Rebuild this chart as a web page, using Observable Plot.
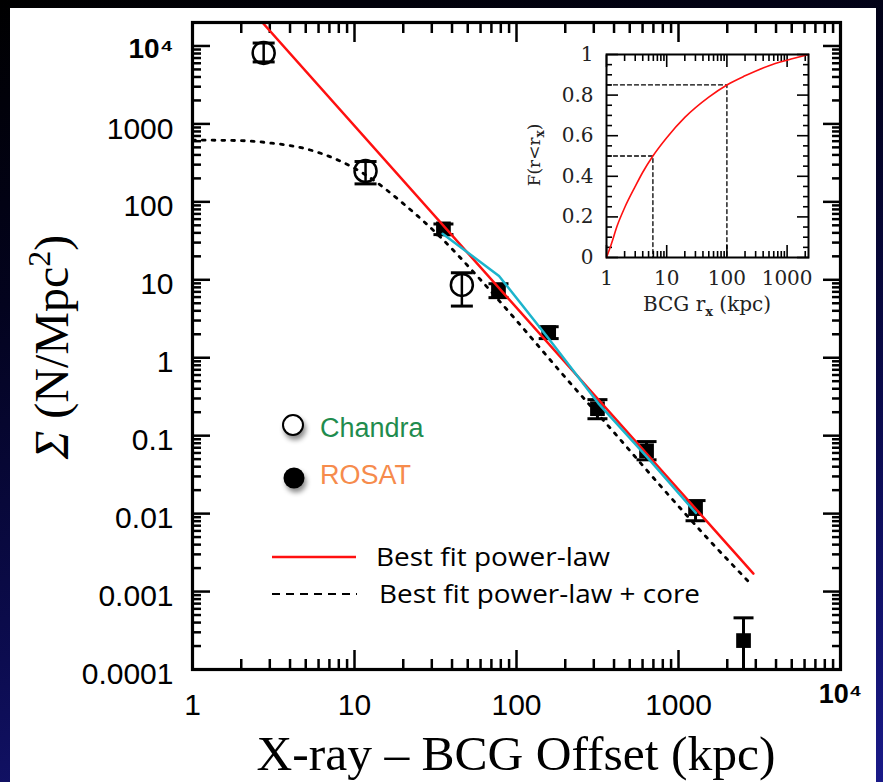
<!DOCTYPE html>
<html>
<head>
<meta charset="utf-8">
<script src="https://cdn.jsdelivr.net/npm/d3@7"></script>
<script src="https://cdn.jsdelivr.net/npm/@observablehq/plot@0.6"></script>
<style>
  html, body { margin: 0; padding: 0; width: 883px; height: 782px; overflow: hidden; }
  body { position: relative; background: linear-gradient(165deg, #000000 0%, #03031e 30%, #0c0c50 65%, #1a1a88 100%); }
  #panel { position: absolute; left: 10px; top: 8px; width: 866px; height: 774px; background: #ffffff; }
  #main { position: absolute; left: 0; top: 0; }
  #inset { position: absolute; left: 540px; top: 30px; }
  #overlay { position: absolute; left: 0; top: 0; pointer-events: none; }
</style>
</head>
<body>
<div id="panel"></div>
<div id="main"></div>
<div id="inset"></div>
<svg id="overlay" width="883" height="782">
  <defs>
    <filter id="sh" x="-60%" y="-60%" width="220%" height="220%">
      <feDropShadow dx="2" dy="4" stdDeviation="2.5" flood-color="#000" flood-opacity="0.45"/>
    </filter>
  </defs>
  <text x="516" y="770" font-family="Liberation Serif" font-size="49" text-anchor="middle" textLength="519" lengthAdjust="spacingAndGlyphs">X-ray – BCG Offset (kpc)</text>
  <text transform="translate(68,347) rotate(-90)" font-family="Liberation Serif" font-size="48" text-anchor="middle"><tspan font-style="italic">Σ</tspan> (N/Mpc<tspan dy="-18" font-size="32">2</tspan><tspan dy="18">)</tspan></text>
  <circle cx="293" cy="425" r="10" fill="#ffffff" stroke="#000" stroke-width="2" filter="url(#sh)"/>
  <text x="320" y="437" font-family="Liberation Sans" font-size="27" fill="#1f8c4e">Chandra</text>
  <circle cx="294" cy="478" r="10.5" fill="#000" filter="url(#sh)"/>
  <text x="320" y="484" font-family="Liberation Sans" font-size="27" fill="#f68b4c">ROSAT</text>
  <line x1="272" x2="356" y1="557" y2="557" stroke="#ff1010" stroke-width="2.5"/>
  <text x="376" y="566" font-family="Open Sans" font-size="26" textLength="234" lengthAdjust="spacingAndGlyphs">Best fit power-law</text>
  <line x1="272" x2="357" y1="594" y2="594" stroke="#000" stroke-width="1.8" stroke-dasharray="8,6"/>
  <text x="379" y="603" font-family="Open Sans" font-size="26" textLength="321" lengthAdjust="spacingAndGlyphs">Best fit power-law + core</text>
  <text x="707" y="311" font-family="DejaVu Serif" font-size="20" text-anchor="middle" fill="#222">BCG r<tspan dy="5" font-size="13" font-weight="bold">x</tspan><tspan dy="-5"> (kpc)</tspan></text>
  <text transform="translate(540,155) rotate(-90)" font-family="DejaVu Serif" font-size="17" text-anchor="middle" fill="#222">F(r&lt;r<tspan dy="4" font-size="12" font-weight="bold">x</tspan><tspan dy="-4">)</tspan></text>
</svg>
<script>
// ---------- main panel data ----------
const xMajor = [1, 10, 100, 1000, 10000];
const xMajorLabels = ["1", "10", "100", "1000", "10⁴"];
const yMajor = [1e-4, 1e-3, 1e-2, 1e-1, 1, 10, 100, 1000, 1e4];
const yMajorLabels = ["0.0001", "0.001", "0.01", "0.1", "1", "10", "100", "1000", "10⁴"];
const minorSteps = [2, 3, 4, 5, 6, 7, 8, 9];

// Chandra (open circles)
const chandraR  = [2.75, 11.7, 46];
const chandraS  = [8150, 249, 8.6];
const chandraLo = [6240, 170, 4.6];
const chandraHi = [10900, 329, 12.3];

// ROSAT (filled squares)
const rosatR  = [35.4, 77.4, 158, 316, 635, 1274, 2520];
const rosatS  = [45, 7.2, 2.1, 0.222, 0.064, 0.0116, 0.000235];
const rosatLo = [38, 5.9, 1.76, 0.165, 0.049, 0.0081, 0.00005];
const rosatHi = [52, 8.9, 2.5, 0.29, 0.084, 0.0147, 0.00046];

// Best fit power-law (red)
const powerR = [2.7, 2900];
const powerS = [20000, 0.0017];

// Best fit power-law + core (dotted)
const coreR = [1, 2, 3, 5, 8, 12, 20, 35, 60, 100, 200, 400, 800, 1500, 2800];
const coreS = [620, 610, 570, 480, 340, 215, 95, 33, 10, 3.0, 0.56, 0.11, 0.021, 0.0049, 0.00125];

// model (cyan)
const modelR = [35, 78, 160, 320, 640, 1280];
const modelS = [39, 11.2, 1.7, 0.26, 0.053, 0.0102];

// ---------- inset data ----------
const insetXMajor = [1, 10, 100, 1000];
const insetXLabels = ["1", "10", "100", "1000"];
const insetYMajor = [0, 0.2, 0.4, 0.6, 0.8, 1];
const insetYLabels = ["0", "0.2", "0.4", "0.6", "0.8", "1"];
const insetYMinor = [0.05,0.1,0.15,0.25,0.3,0.35,0.45,0.5,0.55,0.65,0.7,0.75,0.85,0.9,0.95];
const cumR = [1, 1.2, 1.5, 2, 3, 4, 5.9, 10, 20, 50, 100, 200, 500, 1000, 2266];
const cumF = [0, 0.065, 0.155, 0.245, 0.35, 0.42, 0.5, 0.59, 0.69, 0.79, 0.85, 0.895, 0.945, 0.972, 1.0];
const dashAR = [1, 5.9, 5.9], dashAF = [0.5, 0.5, 0];
const dashBR = [1, 100, 100], dashBF = [0.85, 0.85, 0];

// ---------- build tables ----------
const zip = (a, b, ka, kb) => a.map((v, i) => ({[ka]: v, [kb]: b[i]}));
const chandra = chandraR.map((r, i) => ({r, s: chandraS[i], lo: chandraLo[i], hi: chandraHi[i]}));
const rosat = rosatR.map((r, i) => ({r, s: rosatS[i], lo: rosatLo[i], hi: rosatHi[i]}));
const power = zip(powerR, powerS, "r", "s");
const core = zip(coreR, coreS, "r", "s");
const model = zip(modelR, modelS, "r", "s");
const cum = zip(cumR, cumF, "r", "f");
const dashA = zip(dashAR, dashAF, "r", "f");
const dashB = zip(dashBR, dashBF, "r", "f");

const xMinor = xMajor.slice(0, -1).flatMap(d => minorSteps.map(m => d * m));
const yMinor = yMajor.flatMap(d => minorSteps.map(m => d * m)).filter(v => v < 2e4);
const insetXMinor = insetXMajor.flatMap(d => minorSteps.map(m => d * m)).filter(v => v < 2266);

const labelOf = (vals, labels) => d => {
  const i = vals.findIndex(v => Math.abs(v - d) <= 1e-9 * Math.max(1, Math.abs(v)));
  return i < 0 ? "" : labels[i];
};

// custom horizontal cap symbol
const cap = {draw(ctx, size) { const w = Math.sqrt(size / Math.PI); ctx.moveTo(-w, 0); ctx.lineTo(w, 0); }};

function frameTicks(axis, values, size, sw) {
  const f = axis === "x" ? Plot.axisX : Plot.axisY;
  const anchors = axis === "x" ? ["bottom", "top"] : ["left", "right"];
  return anchors.map(a => f(values, {anchor: a, tickSize: -size, fill: "none", stroke: "black", strokeWidth: sw, label: null}));
}

const font = "Liberation Sans";
const main = Plot.plot({
  width: 883, height: 782,
  marginLeft: 192, marginRight: 43, marginTop: 22, marginBottom: 113,
  style: {background: "transparent", overflow: "visible"},
  x: {type: "log", domain: [1, 1e4], axis: null},
  y: {type: "log", domain: [1e-4, 2e4], axis: null},
  marks: [
    ...frameTicks("x", xMajor, 19, 2.5),
    ...frameTicks("x", xMinor, 10, 2.5),
    ...frameTicks("y", yMajor, 18, 2.5),
    ...frameTicks("y", yMinor, 9, 2.5),
    Plot.axisX(xMajor, {anchor: "bottom", tickSize: 0, tickPadding: 24, tickFormat: d => d === 1e4 ? "" : labelOf(xMajor, xMajorLabels)(d), fontSize: 30, fontFamily: font, label: null}),
    Plot.axisX([1e4], {anchor: "bottom", tickSize: 0, tickPadding: 14, tickFormat: labelOf(xMajor, xMajorLabels), fontSize: 27, fontWeight: "bold", fontFamily: font, label: null}),
    Plot.axisY(yMajor, {anchor: "left", tickSize: 0, tickPadding: 19, dy: 5, tickFormat: d => d === 1e4 ? "" : labelOf(yMajor, yMajorLabels)(d), fontSize: 30, fontFamily: font, label: null}),
    Plot.axisY([1e4], {anchor: "left", tickSize: 0, tickPadding: 19, dy: 3, tickFormat: labelOf(yMajor, yMajorLabels), fontSize: 28, fontWeight: "bold", fontFamily: font, label: null}),
    // Chandra
    Plot.ruleX(chandra, {x: "r", y1: "lo", y2: "hi", stroke: "black", strokeWidth: 2.5, clip: true}),
    Plot.dot(chandra, {x: "r", y: "lo", symbol: cap, r: 11, stroke: "black", fill: "none", strokeWidth: 3, clip: true}),
    Plot.dot(chandra, {x: "r", y: "hi", symbol: cap, r: 11, stroke: "black", fill: "none", strokeWidth: 3, clip: true}),
    Plot.dot(chandra, {x: "r", y: "s", r: 11, stroke: "black", fill: "none", strokeWidth: 2.5}),
    // ROSAT
    Plot.ruleX(rosat, {x: "r", y1: "lo", y2: "hi", stroke: "black", strokeWidth: 3, clip: true}),
    Plot.dot(rosat, {x: "r", y: "lo", symbol: cap, r: 10, stroke: "black", fill: "none", strokeWidth: 3, clip: true}),
    Plot.dot(rosat, {x: "r", y: "hi", symbol: cap, r: 10, stroke: "black", fill: "none", strokeWidth: 3, clip: true}),
    Plot.dot(rosat, {x: "r", y: "s", symbol: "square", r: 8.3, fill: "black", stroke: "none"}),
    // fits
    Plot.line(core, {x: "r", y: "s", stroke: "black", strokeWidth: 2.8, strokeDasharray: "2.8,7", curve: "monotone-x", clip: true}),
    Plot.line(power, {x: "r", y: "s", stroke: "#ff1010", strokeWidth: 2.5, clip: true}),
    Plot.line(model, {x: "r", y: "s", stroke: "#1cb4cc", strokeWidth: 2.5, clip: true}),
    Plot.frame({stroke: "black", strokeWidth: 3.2})
  ]
});
document.getElementById("main").append(main);

const serif = "DejaVu Serif";
const inset = Plot.plot({
  width: 300, height: 300,
  marginLeft: 66, marginRight: 32, marginTop: 24, marginBottom: 73,
  style: {background: "transparent", overflow: "visible"},
  x: {type: "log", domain: [1, 2266], axis: null},
  y: {type: "linear", domain: [0, 1], axis: null},
  marks: [
    ...frameTicks("x", insetXMajor, 12, 1.6),
    ...frameTicks("x", insetXMinor, 6, 1.6),
    ...frameTicks("y", insetYMajor, 12, 1.6),
    ...frameTicks("y", insetYMinor, 6, 1.6),
    Plot.axisX(insetXMajor, {anchor: "bottom", tickSize: 0, tickPadding: 13, tickFormat: labelOf(insetXMajor, insetXLabels), fontSize: 20, fontFamily: serif, fill: "#222", label: null}),
    Plot.axisY(insetYMajor, {anchor: "left", tickSize: 0, tickPadding: 13, tickFormat: labelOf(insetYMajor, insetYLabels), fontSize: 20, fontFamily: serif, fill: "#222", label: null}),
    Plot.line(dashA, {x: "r", y: "f", stroke: "black", strokeWidth: 1.3, strokeDasharray: "4,3"}),
    Plot.line(dashB, {x: "r", y: "f", stroke: "black", strokeWidth: 1.3, strokeDasharray: "4,3"}),
    Plot.line(cum, {x: "r", y: "f", stroke: "#ff1010", strokeWidth: 1.6, curve: "monotone-x"}),
    Plot.frame({stroke: "black", strokeWidth: 2})
  ]
});
document.getElementById("inset").append(inset);
</script>
</body>
</html>
